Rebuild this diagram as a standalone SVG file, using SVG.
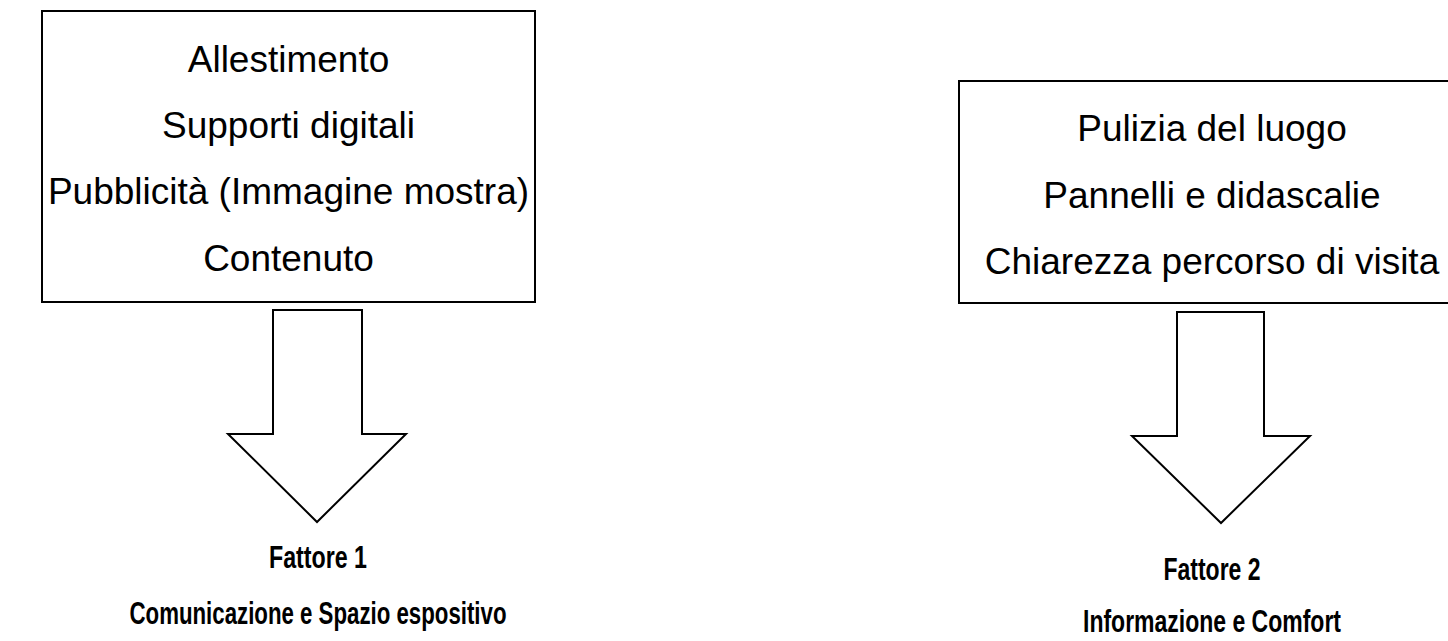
<svg xmlns="http://www.w3.org/2000/svg" width="1448" height="641" viewBox="0 0 1448 641">
<style>
.box{fill:#fff;stroke:#000;stroke-width:2}
.arrow{fill:#fff;stroke:#000;stroke-width:2;stroke-linejoin:miter}
.t{font-family:"Liberation Sans",Arial,sans-serif;font-size:37px;fill:#000;text-anchor:middle}
.b{font-family:"Liberation Sans",Arial,sans-serif;font-size:32px;font-weight:bold;fill:#000;text-anchor:middle}
</style>
<rect width="1448" height="641" fill="#fff"/>
<g id="box1">
<rect class="box" x="42" y="11" width="493" height="291"/>
<text class="t" x="288.5" y="72">Allestimento</text>
<text class="t" x="288.5" y="138">Supporti digitali</text>
<text class="t" x="288.5" y="204">Pubblicità (Immagine mostra)</text>
<text class="t" x="288.5" y="271">Contenuto</text>
</g>
<g id="box2">
<rect class="box" x="959" y="81" width="520" height="222"/>
<text class="t" x="1212" y="141">Pulizia del luogo</text>
<text class="t" x="1212" y="208">Pannelli e didascalie</text>
<text class="t" x="1212" y="274">Chiarezza percorso di visita</text>
</g>
<g id="connectors">
<polygon class="arrow" points="273,310 362,310 362,434 406,434 317,522 228,434 273,434"/>
<polygon class="arrow" points="1177,312 1264,312 1264,436 1310,436 1221,523 1132,436 1177,436"/>
</g>
<g id="factor1">
<text class="b" x="318" y="568" textLength="98" lengthAdjust="spacingAndGlyphs">Fattore 1</text>
<text class="b" x="318" y="624" textLength="377" lengthAdjust="spacingAndGlyphs">Comunicazione e Spazio espositivo</text>
</g>
<g id="factor2">
<text class="b" x="1212" y="580" textLength="97" lengthAdjust="spacingAndGlyphs">Fattore 2</text>
<text class="b" x="1212" y="632" textLength="258" lengthAdjust="spacingAndGlyphs">Informazione e Comfort</text>
</g>
</svg>
